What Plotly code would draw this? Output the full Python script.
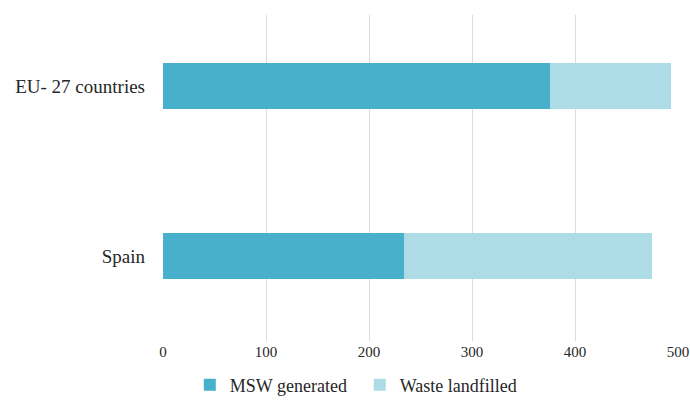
import plotly.graph_objects as go

categories = ["Spain", "EU- 27 countries"]
msw_generated = [234, 376]
waste_landfilled = [241, 117]
series_names = ["MSW generated", "Waste landfilled"]
x_ticks = [0, 100, 200, 300, 400, 500]

dark = "rgb(72,176,203)"
light = "rgb(174,220,230)"
serif = "Liberation Serif, serif"

fig = go.Figure()
fig.add_trace(go.Bar(y=categories, x=msw_generated, name=series_names[0], orientation="h",
                     marker=dict(color=dark, line=dict(width=0)), width=0.27))
fig.add_trace(go.Bar(y=categories, x=waste_landfilled, name=series_names[1], orientation="h",
                     marker=dict(color=light, line=dict(width=0)), width=0.27))

fig.update_layout(
    barmode="stack",
    width=690, height=403,
    margin=dict(l=163, r=12, t=15, b=62, autoexpand=False),
    plot_bgcolor="white", paper_bgcolor="white",
    font=dict(family=serif, color="#262626"),
    xaxis=dict(range=[0, 500], tickvals=x_ticks, showgrid=True, gridcolor="#dcdcdc", gridwidth=1,
               zeroline=False, showline=False, automargin=False,
               tickfont=dict(size=15, family=serif)),
    yaxis=dict(type="category", range=[-0.5, 1.418], showgrid=False, zeroline=False, showline=False,
               automargin=False, tickfont=dict(size=19, family=serif), ticklabelstandoff=17),
    legend=dict(orientation="h", x=0.052, xanchor="left", y=-0.135, yanchor="middle",
                font=dict(size=18, family=serif), traceorder="normal", entrywidth=125),
    showlegend=True,
)

fig.write_html("out.html")
